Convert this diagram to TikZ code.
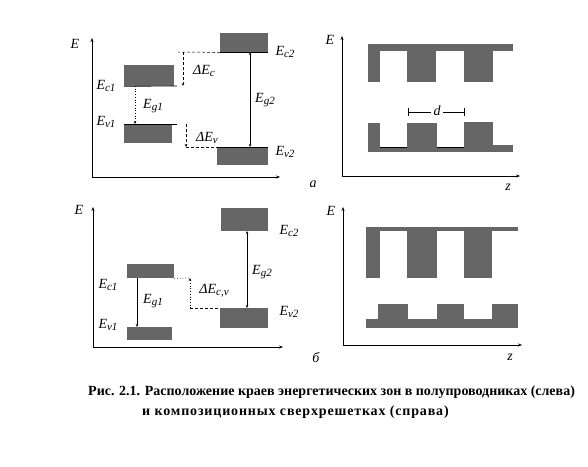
\documentclass[tikz,border=0pt]{standalone}
\usepackage{fontspec}
\setmainfont{Liberation Serif}
\usetikzlibrary{arrows.meta}
\newcommand{\sbx}[1]{\raisebox{-0.35ex}{\fontsize{11}{11}\selectfont #1}}
\begin{document}
\begin{tikzpicture}[x=1pt,y=-1pt,
  band/.style={fill=black!60,draw=none,inner sep=0,anchor=north west},
  slfill/.style={fill=black!60},
  lab/.style={font=\fontsize{14}{14}\selectfont\itshape,inner sep=0},
  axis/.style={line width=0.8pt,-{Stealth[length=4pt,width=3pt]}},
  tip/.style={-{Stealth[length=3pt,width=2.5pt]}},
  tips/.style={{Stealth[length=3pt,width=2.5pt]}-{Stealth[length=3pt,width=2.5pt]}},
  dashln/.style={dash pattern=on 3pt off 2pt,line width=0.5pt},
  thinln/.style={line width=0.6pt},
  captxt/.style={font=\fontsize{14}{15}\selectfont\bfseries,inner sep=0,anchor=west}]
\useasboundingbox (0,0) rectangle (588,466);

% ===== panel a, left =====
\coordinate (oa) at (92,177);
\coordinate (ya) at (92,38);
\coordinate (xa) at (280,177);
\draw[axis] (oa) -- (ya);
\draw[axis] (oa) -- (xa);
\node[lab] (Ea) at (75,44) {E};

\node[band,minimum width=50pt,minimum height=21pt] (c1) at (124,65) {};
\node[band,minimum width=48pt,minimum height=19pt] (v1) at (124,124) {};
\node[band,minimum width=48pt,minimum height=19pt] (c2) at (220,33) {};
\node[band,minimum width=51pt,minimum height=18pt] (v2) at (217,147) {};

\coordinate (c1e) at (177,86);
\coordinate (v1e) at (177,124);
\draw[thinln] (c1.south west) -- (c1e);
\draw[thinln] (v1.north west) -- (v1e);
\draw[thinln] (c2.south west) -- (c2.south east);
\draw[thinln] (v2.north west) -- (v2.north east);

% Delta E_c
\coordinate (dc1) at (183,52);
\coordinate (dc2) at (183,86);
\draw[dashln] (c2.south west) -- (178,52);
\draw[dashln,tip] (dc1) -- (dc2);
% Delta E_v
\coordinate (dv1) at (186,124);
\coordinate (dv2) at (186,147);
\draw[dashln,tip] (dv1) -- (dv2);
\draw[dashln] (dv2) -- (v2.north west);
% Eg1, Eg2
\coordinate (g1a) at (135,86);
\coordinate (g1b) at (135,124);
\draw[dotted,line width=0.7pt,tip] (g1a) -- (g1b);
\coordinate (g2a) at (250,52);
\coordinate (g2b) at (250,147);
\draw[thinln,tips] (g2a) -- (g2b);

\node[lab] (lc1) at (106,86) {E\sbx{c1}};
\node[lab] (lv1) at (106,122) {E\sbx{v1}};
\node[lab] (lg1) at (153,106) {E\sbx{g1}};
\node[lab] (ldc) at (204,71) {ΔE\sbx{c}};
\node[lab] (ldv) at (207,138) {ΔE\sbx{v}};
\node[lab] (lc2) at (285,52) {E\sbx{c2}};
\node[lab] (lg2) at (265,100) {E\sbx{g2}};
\node[lab] (lv2) at (285,152) {E\sbx{v2}};
\node[lab] (la) at (313,184) {a};

% ===== panel a, right =====
\coordinate (ob) at (342,176);
\coordinate (yb) at (342,36);
\coordinate (xb) at (520,176);
\draw[axis] (ob) -- (yb);
\draw[axis] (ob) -- (xb);
\node[lab] (Eb) at (330,40) {E};
\node[lab] (zb) at (508,187) {z};

\fill[slfill] (368,44) rectangle (513,51);
\fill[slfill] (368,44) rectangle (380,82);
\fill[slfill] (407,44) rectangle (436,82);
\fill[slfill] (464,44) rectangle (493,82);

\fill[slfill] (368,147) rectangle (513,152);
\fill[slfill] (368,123) rectangle (380,152);
\fill[slfill] (407,123) rectangle (437,152);
\fill[slfill] (464,122) rectangle (493,152);
\fill[slfill] (493,145) rectangle (513,152);
\draw[thinln] (380,147) -- (407,147);
\draw[thinln] (437,147) -- (464,147);

\coordinate (d1) at (408,112);
\coordinate (d2) at (464,112);
\node[lab,fill=white,inner sep=2pt] (ld) at (437,111) {d};
\draw[thinln] (d1) -- (ld.west |- d1);
\draw[thinln] (ld.east |- d2) -- (d2);
\draw[thinln] (408,108) -- (408,116);
\draw[thinln] (464,108) -- (464,116);

% ===== panel b, left =====
\coordinate (oc) at (93,347);
\coordinate (yc) at (93,207);
\coordinate (xc) at (283,347);
\draw[axis] (oc) -- (yc);
\draw[axis] (oc) -- (xc);
\node[lab] (Ec) at (79,210) {E};

\node[band,minimum width=47pt,minimum height=14pt] (bc1) at (127,264) {};
\node[band,minimum width=45pt,minimum height=13pt] (bv1) at (127,327) {};
\node[band,minimum width=47pt,minimum height=23pt] (bc2) at (221,208) {};
\node[band,minimum width=48pt,minimum height=20pt] (bv2) at (220,308) {};

\coordinate (bce) at (190,278);
\coordinate (bve) at (190,308);
\draw[dotted,line width=0.7pt] (bc1.south east) -- (bce);
\draw[dotted,line width=0.7pt,tip] (bve) -- (bce);
\draw[dashln] (bve) -- (bv2.north west);

\coordinate (bg1a) at (137,278);
\coordinate (bg1b) at (137,327);
\draw[thinln,tip] (bg1a) -- (bg1b);
\coordinate (bg2a) at (247,231);
\coordinate (bg2b) at (247,308);
\draw[thinln,tips] (bg2a) -- (bg2b);

\node[lab] (blc1) at (108,285) {E\sbx{c1}};
\node[lab] (blv1) at (108,325) {E\sbx{v1}};
\node[lab] (blg1) at (153,301) {E\sbx{g1}};
\node[lab] (bldcv) at (214,291) {ΔE\sbx{c,v}};
\node[lab] (blc2) at (289,231) {E\sbx{c2}};
\node[lab] (blg2) at (262,272) {E\sbx{g2}};
\node[lab] (blv2) at (289,312) {E\sbx{v2}};
\node[lab] (lb) at (316,358) {б};

% ===== panel b, right =====
\coordinate (od) at (343,345);
\coordinate (yd) at (343,207);
\coordinate (xd) at (522,345);
\draw[axis] (od) -- (yd);
\draw[axis] (od) -- (xd);
\node[lab] (Ed) at (331,211) {E};
\node[lab] (zd) at (510,357) {z};

\fill[slfill] (366,227) rectangle (518,231);
\fill[slfill] (366,227) rectangle (380,278);
\fill[slfill] (407,227) rectangle (437,278);
\fill[slfill] (464,227) rectangle (492,278);

\fill[slfill] (366,319) rectangle (518,328);
\fill[slfill] (378,304) rectangle (408,328);
\fill[slfill] (437,304) rectangle (464,328);
\fill[slfill] (492,304) rectangle (518,328);

% ===== caption =====
\node[captxt] (cap1) at (88,392) {Рис. 2.1. Расположение краев энергетических зон в полупроводниках (слева)};
\node[captxt] (cap2) at (142,412) {\addfontfeature{LetterSpace=6}и композиционных сверхрешетках (справа)};
\end{tikzpicture}
\end{document}
